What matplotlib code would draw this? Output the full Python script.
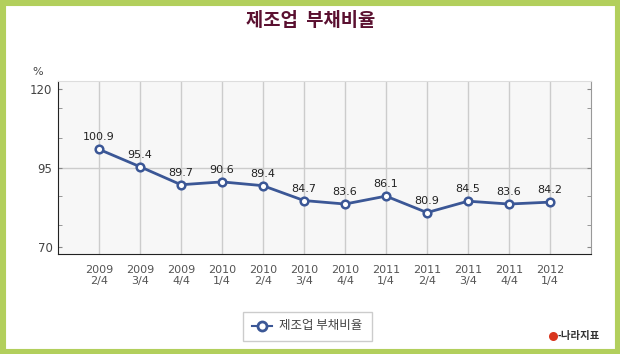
import matplotlib.pyplot as plt
from matplotlib.patches import Rectangle
from matplotlib.lines import Line2D

plt.rcParams['font.family'] = ['Noto Sans CJK KR', 'DejaVu Sans']

years = ['2009', '2009', '2009', '2010', '2010', '2010', '2010', '2011', '2011', '2011', '2011', '2012']
quarters = ['2/4', '3/4', '4/4', '1/4', '2/4', '3/4', '4/4', '1/4', '2/4', '3/4', '4/4', '1/4']
values = [100.9, 95.4, 89.7, 90.6, 89.4, 84.7, 83.6, 86.1, 80.9, 84.5, 83.6, 84.2]
y_ticks = [70, 95, 120]
minor_ticks = [77, 86, 104.5, 114]

W, H = 620, 354
fig = plt.figure(figsize=(W / 100, H / 100), dpi=100)

# green outer frame
fig.patches.append(Rectangle((0, 0), 1, 1, transform=fig.transFigure, zorder=-5,
                             facecolor='white', edgecolor='#b2cf5c', linewidth=8))

ax = fig.add_axes([58 / W, 1 - 254 / H, (591 - 58) / W, (254 - 81) / H])
ax.set_facecolor('#f7f7f7')

x = list(range(len(values)))
ax.plot(x, values, color='#3b5796', linewidth=2, marker='o', markersize=5.5,
        markerfacecolor='white', markeredgecolor='#3b5796', markeredgewidth=1.8, zorder=3)
for xi, v in zip(x, values):
    ax.annotate(f'{v}', (xi, v), xytext=(0, 5), textcoords='offset points',
                ha='center', va='bottom', fontsize=8, color='#222222', family='DejaVu Sans')

ax.set_xlim(-1, 12)
ax.set_ylim(67.8, 122.5)
ax.set_xticks(x)
ax.set_xticklabels([f'{a}\n{b}' for a, b in zip(years, quarters)],
                   fontsize=8, color='#555555', family='DejaVu Sans', linespacing=1.05)
ax.set_yticks(y_ticks)
ax.set_yticklabels([str(t) for t in y_ticks], fontsize=8.5, color='#444444', family='DejaVu Sans')
ax.set_yticks(minor_ticks, minor=True)
ax.tick_params(axis='x', length=0, pad=8)
ax.tick_params(axis='y', which='both', length=3, direction='in', right=True, color='#888888', pad=4)

ax.grid(axis='x', color='#cccccc', linewidth=1)
ax.axhline(95, color='#cccccc', linewidth=1, zorder=1)

ax.spines['left'].set_color('#222222')
ax.spines['bottom'].set_color('#222222')
ax.spines['right'].set_color('#999999')
ax.spines['top'].set_color('#dddddd')

fig.text(311 / W, 1 - 21 / H, '제조업  부채비율', ha='center', va='center',
         fontsize=13.5, fontweight='bold', color='#5a1030')
fig.text(38 / W, 1 - 72 / H, '%', ha='center', va='center', fontsize=8, color='#444444',
         family='DejaVu Sans')

# legend box
fig.patches.append(Rectangle((243 / W, 1 - 341 / H), 129 / W, 29 / H, transform=fig.transFigure,
                             facecolor='white', edgecolor='#cccccc', linewidth=1))
fig.lines.append(Line2D([252 / W, 272 / W], [1 - 326 / H, 1 - 326 / H], transform=fig.transFigure,
                        color='#3b5796', linewidth=1.5))
fig.lines.append(Line2D([262 / W], [1 - 326 / H], transform=fig.transFigure, color='#3b5796',
                        marker='o', markersize=6.5, markerfacecolor='white', markeredgewidth=2))
fig.text(279 / W, 1 - 326 / H, '제조업 부채비율', ha='left', va='center', fontsize=9, color='#444444')

# source logo
fig.lines.append(Line2D([553 / W], [1 - 336 / H], transform=fig.transFigure, marker='o',
                        markersize=6.5, color='#d9361e', markeredgewidth=0))
fig.text(558 / W, 1 - 336 / H, '-나라지표', ha='left', va='center', fontsize=7.5,
         fontweight='bold', color='#333333')

fig.savefig('out.png', dpi=100)
